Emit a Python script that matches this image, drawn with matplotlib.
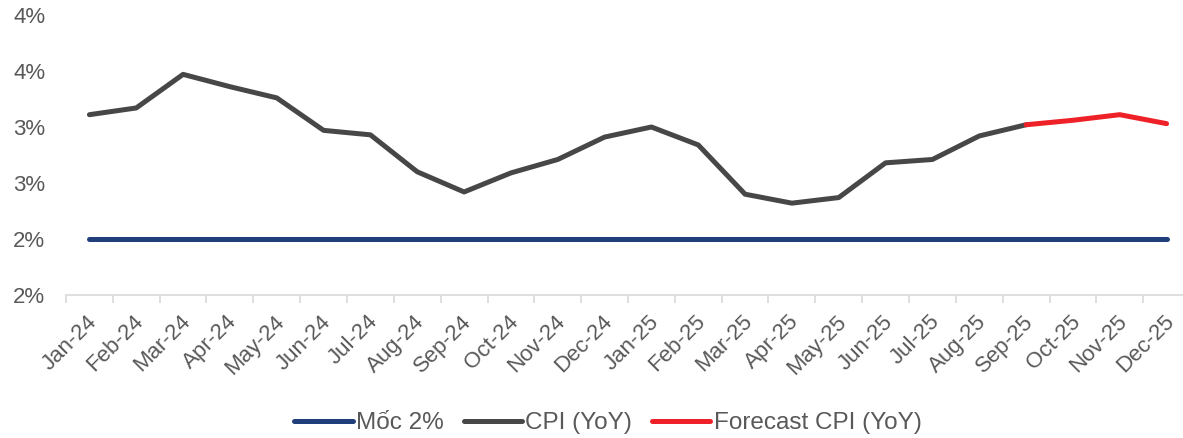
import numpy as np
import matplotlib.pyplot as plt
import matplotlib.transforms as mtransforms

plt.rcParams['font.family'] = ['Liberation Sans', 'DejaVu Sans']

months = ['Jan-24', 'Feb-24', 'Mar-24', 'Apr-24', 'May-24', 'Jun-24', 'Jul-24', 'Aug-24',
          'Sep-24', 'Oct-24', 'Nov-24', 'Dec-24', 'Jan-25', 'Feb-25', 'Mar-25', 'Apr-25',
          'May-25', 'Jun-25', 'Jul-25', 'Aug-25', 'Sep-25', 'Oct-25', 'Nov-25', 'Dec-25']
cpi = [3.11, 3.17, 3.47, 3.36, 3.26, 2.97, 2.93, 2.60, 2.42, 2.59, 2.71, 2.91,
       3.00, 2.84, 2.40, 2.32, 2.37, 2.68, 2.71, 2.92, 3.02]
forecast_months = ['Sep-25', 'Oct-25', 'Nov-25', 'Dec-25']
forecast = [3.02, 3.06, 3.11, 3.03]
target = [2.0] * len(months)
yticks = [1.5, 2.0, 2.5, 3.0, 3.5, 4.0]

x = np.arange(len(months))
x_cpi = x[:len(cpi)]
x_fc = np.array([months.index(m) for m in forecast_months])

fig = plt.figure(figsize=(11.83, 4.38), dpi=100)
ax = fig.add_axes([66/1183, 1 - 295/438, (1190 - 66)/1183, 280/438])

lw = 3.6
ax.plot(x, target, color='#203f7a', lw=lw, solid_capstyle='round', label='Mốc 2%')
ax.plot(x_cpi, cpi, color='#474747', lw=lw, solid_capstyle='round', label='CPI (YoY)')
ax.plot(x_fc, forecast, color='#ee2128', lw=lw, solid_capstyle='round', label='Forecast CPI (YoY)')

ax.set_xlim(-0.5, len(months) - 0.5)
ax.set_ylim(1.5, 4.0)
ax.set_yticks(yticks)
ax.set_yticklabels(['%d%%' % int(np.floor(v + 0.5)) for v in yticks])
ax.tick_params(axis='y', length=0, pad=15, labelsize=16, labelcolor='#595959')

ax.set_xticks(x)
ax.set_xticklabels(months, rotation=45, ha='right', va='center', rotation_mode='anchor')
ax.set_xticks(np.arange(-0.5, len(months)), minor=True)
ax.tick_params(axis='x', which='major', length=0, pad=17, labelsize=16, labelcolor='#595959')
ax.tick_params(axis='x', which='minor', length=6, width=1.2, color='#d9d9d9')
offset = mtransforms.ScaledTranslation(3/72, 0, fig.dpi_scale_trans)
for lab in ax.get_xticklabels():
    lab.set_transform(lab.get_transform() + offset)

for s in ['top', 'right', 'left']:
    ax.spines[s].set_visible(False)
ax.spines['bottom'].set_color('#d9d9d9')
ax.spines['bottom'].set_linewidth(1.2)

fig.legend(loc='center', bbox_to_anchor=(608/1183, 1 - 423/438), ncol=3, frameon=False,
           fontsize=17.5, handlelength=2.4, handletextpad=0.15, columnspacing=0.8,
           labelcolor='#595959')

fig.savefig('out.png', dpi=100)
